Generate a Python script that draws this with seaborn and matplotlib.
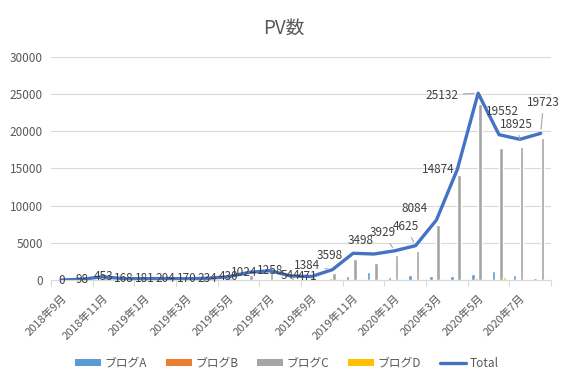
import numpy as np
import pandas as pd
import matplotlib
matplotlib.use("Agg")
import matplotlib.pyplot as plt
import seaborn as sns
from matplotlib.patches import Patch
from matplotlib.lines import Line2D

# ---- data ----
months = ["2018年9月", "2018年10月", "2018年11月", "2018年12月",
          "2019年1月", "2019年2月", "2019年3月", "2019年4月",
          "2019年5月", "2019年6月", "2019年7月", "2019年8月",
          "2019年9月", "2019年10月", "2019年11月", "2019年12月",
          "2020年1月", "2020年2月", "2020年3月", "2020年4月",
          "2020年5月", "2020年6月", "2020年7月", "2020年8月"]
blog_a = [0, 20, 50, 30, 30, 40, 30, 40, 60, 100, 120, 80, 60, 100,
          540, 1120, 400, 670, 540, 540, 800, 1210, 670, 270]
blog_b = [0, 10, 30, 10, 10, 20, 10, 20, 80, 200, 150, 60, 50, 300,
          150, 120, 150, 100, 150, 150, 300, 150, 150, 150]
blog_c = [0, 60, 370, 120, 130, 140, 120, 170, 280, 700, 950, 400, 350, 950,
          2800, 2300, 3360, 3900, 7400, 14100, 23700, 17700, 17950, 19150]
blog_d = [0, 0, 0, 0, 0, 0, 0, 0, 0, 0, 0, 0, 0, 0,
          0, 0, 0, 0, 0, 0, 150, 400, 150, 150]
total = [0, 98, 453, 168, 181, 204, 170, 234, 430, 1024, 1258, 544, 471, 1384,
         3598, 3498, 3929, 4625, 8084, 14874, 25132, 19552, 18925, 19723]
series_names = ["ブログA", "ブログB", "ブログC", "ブログD"]
y_ticks = [0, 5000, 10000, 15000, 20000, 25000, 30000]

# ---- styling ----
colors = ["#5B9BD5", "#ED7D31", "#A5A5A5", "#FFC000"]
line_color = "#4472C4"
text_color = "#595959"
grid_color = "#D9D9D9"
# label offsets (pixels, right / down) and leader flags
label_off = {9: (-5, 0), 12: (-4, 0), 13: (-25, -4), 14: (-23, 2), 15: (-13, -14),
             16: (-12, -18), 17: (-10, -19), 18: (-22, -11), 19: (-19, 0),
             20: (-36, 2), 21: (3, -23), 22: (-3, -15), 23: (3, -31)}
leaders = {13, 16, 17, 20, 22, 23}

sns.set_theme(style="white")
plt.rcParams["font.family"] = ["Noto Sans CJK JP", "DejaVu Sans"]

df = pd.DataFrame({"month": months * 4,
                   "series": sum([[s] * len(months) for s in series_names], []),
                   "pv": blog_a + blog_b + blog_c + blog_d})

fig = plt.figure(figsize=(5.68, 3.85), dpi=100)
ax = fig.add_axes([0.0898, 0.2727, 0.8804, 0.5793])

sns.barplot(data=df, x="month", y="pv", hue="series", order=months,
            hue_order=series_names, palette=colors, width=0.7,
            saturation=1, ax=ax, legend=False, errorbar=None)
sns.lineplot(x=np.arange(len(months)), y=total, color=line_color,
             linewidth=2.4, ax=ax, legend=False)

for i, v in enumerate(total):
    dx, dy = label_off.get(i, (0, 0))
    if i in leaders:
        ax.annotate(str(v), xy=(i, v), xytext=(dx, -dy), textcoords="offset pixels",
                    ha="center", va="center", fontsize=8.5, color="#404040",
                    arrowprops=dict(arrowstyle="-", color="#A6A6A6", lw=0.8,
                                    shrinkA=1, shrinkB=3))
    else:
        ax.annotate(str(v), xy=(i, v), xytext=(dx, -dy), textcoords="offset pixels",
                    ha="center", va="center", fontsize=8.5, color="#404040")

ax.set_xlim(-0.5, len(months) - 0.5)
ax.set_ylim(0, 30000)
ax.set_yticks(y_ticks)
ax.set_yticklabels([str(t) for t in y_ticks], fontsize=8.5, color=text_color)
ax.yaxis.grid(True, color=grid_color, linewidth=0.8)
ax.set_axisbelow(True)
ax.tick_params(axis="y", length=0, pad=6)

ax.set_xticks(range(0, len(months), 2))
ax.set_xticklabels(months[::2], rotation=45, ha="right", va="top",
                   rotation_mode="anchor", fontsize=8, color=text_color)
ax.set_xticks(np.arange(-0.5, len(months), 2), minor=True)
ax.tick_params(axis="x", which="major", length=0, pad=9)
ax.tick_params(axis="x", which="minor", length=4, color=grid_color, width=0.8,
               direction="out", bottom=True)
ax.set_xlabel("")
ax.set_ylabel("")
for s in ["top", "right", "left"]:
    ax.spines[s].set_visible(False)
ax.spines["bottom"].set_color(grid_color)
ax.spines["bottom"].set_linewidth(0.8)

fig.text(0.5, 0.927, "PV数", ha="center", va="center", fontsize=13.5, color=text_color)

handles = [Patch(facecolor=c, edgecolor="none") for c in colors]
handles.append(Line2D([0], [0], color=line_color, linewidth=2.4))
fig.legend(handles, series_names + ["Total"], loc="center", bbox_to_anchor=(0.505, 0.057),
           ncol=5, frameon=False, fontsize=8.5, handlelength=2.2, handleheight=0.5,
           handletextpad=0.3, columnspacing=1.6, labelcolor=text_color)

fig.savefig("out.png", dpi=100)
